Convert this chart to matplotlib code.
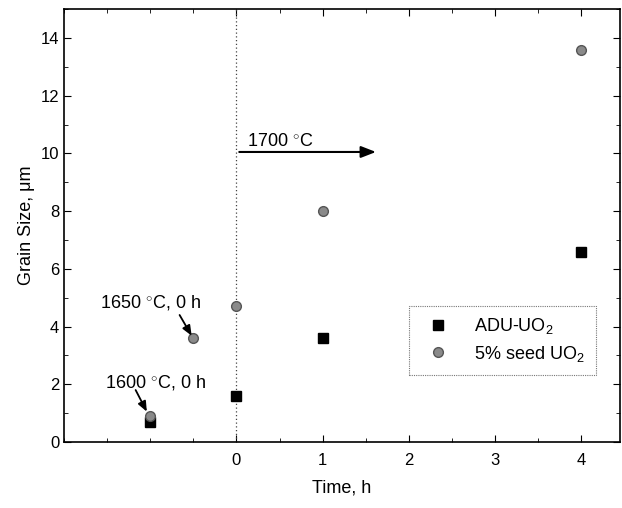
import numpy as np
import matplotlib.pyplot as plt
from matplotlib.ticker import MultipleLocator

plt.rcParams['font.family'] = ['Liberation Sans', 'DejaVu Sans']
plt.rcParams['mathtext.fontset'] = 'custom'
plt.rcParams['mathtext.rm'] = 'Liberation Sans'

# data
adu_t = [-1, 0, 1, 4]
adu_g = [0.7, 1.6, 3.6, 6.6]
seed_t = [-1, -0.5, 0, 1, 4]
seed_g = [0.9, 3.6, 4.7, 8.0, 13.6]

fig = plt.figure(figsize=(6.22, 5.08), dpi=100)
ax = fig.add_axes([0.103, 0.13, 0.894, 0.852])

ax.axvline(0, color='#444444', ls=(0, (1, 2)), lw=0.9)
ax.plot(adu_t, adu_g, 's', color='black', ms=6.5, label='ADU-UO$_2$')
ax.plot(seed_t, seed_g, 'o', color='#8a8a8a', mec='#555555', ms=7, label='5% seed UO$_2$')

ax.set_xlim(-2, 4.45)
ax.set_ylim(0, 15)
ax.set_xticks([0, 1, 2, 3, 4])
ax.xaxis.set_minor_locator(MultipleLocator(0.5))
ax.yaxis.set_major_locator(MultipleLocator(2))
ax.yaxis.set_minor_locator(MultipleLocator(1))
ax.tick_params(which='both', direction='in', top=True, right=True, labelsize=12)
ax.tick_params(which='major', length=5)
ax.tick_params(which='minor', length=3)
ax.tick_params(axis='x', pad=8)
for s in ax.spines.values():
    s.set_linewidth(1.2)

ax.set_xlabel('Time, h', fontsize=13, labelpad=8)
ax.set_ylabel('Grain Size, \u03bcm', fontsize=13, labelpad=4)

ax.annotate('', xy=(1.65, 10.05), xytext=(0, 10.05),
            arrowprops=dict(arrowstyle='-|>,head_length=0.9,head_width=0.35', color='black', lw=1.5))
ax.text(0.12, 10.25, '1700 $^{\\circ}$C', fontsize=13)

ax.text(-1.0, 4.65, '1650 $^{\\circ}$C, 0 h', ha='center', fontsize=13)
ax.annotate('', xy=(-0.52, 3.68), xytext=(-0.66, 4.4),
            arrowprops=dict(arrowstyle='-|>,head_length=0.6,head_width=0.25', color='black', lw=1.3,
                            shrinkA=0, shrinkB=0))
ax.text(-0.94, 1.9, '1600 $^{\\circ}$C, 0 h', ha='center', fontsize=13)
ax.annotate('', xy=(-1.04, 1.05), xytext=(-1.17, 1.8),
            arrowprops=dict(arrowstyle='-|>,head_length=0.6,head_width=0.25', color='black', lw=1.3,
                            shrinkA=0, shrinkB=0))

leg = ax.legend(loc='lower right', bbox_to_anchor=(0.972, 0.135), fontsize=13,
                frameon=True, fancybox=False, edgecolor='#555555', handletextpad=1.0,
                borderpad=0.6, labelspacing=0.4)
leg.get_frame().set_linewidth(0.8)
leg.get_frame().set_linestyle((0, (1, 1)))

fig.savefig('out.png', dpi=100)
